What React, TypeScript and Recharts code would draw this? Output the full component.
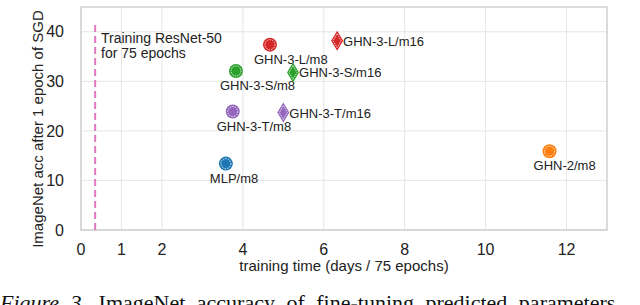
import React from 'react';
import {
  ScatterChart,
  Scatter,
  XAxis,
  YAxis,
  CartesianGrid,
  ReferenceLine,
  ReferenceArea,
  Label,
  Cell,
} from 'recharts';

const names = ['MLP/m8', 'GHN-3-T/m8', 'GHN-3-S/m8', 'GHN-3-L/m8', 'GHN-3-T/m16', 'GHN-3-S/m16', 'GHN-3-L/m16', 'GHN-2/m8'];
const days = [3.58, 3.75, 3.83, 4.67, 5.0, 5.24, 6.33, 11.58];
const acc = [13.4, 23.9, 32.1, 37.4, 23.7, 31.8, 38.2, 15.9];
const colors = ['#1f77b4', '#9467bd', '#2ca02c', '#d62728', '#9467bd', '#2ca02c', '#d62728', '#ff7f0e'];
const markers = ['circle', 'circle', 'circle', 'circle', 'diamond', 'diamond', 'diamond', 'circle'];

const xTicks = [0, 1, 2, 4, 6, 8, 10, 12];
const yTicks = [0, 10, 20, 30, 40];
const resnetDays = 0.35;

const data = names.map((name, i) => ({ name, x: days[i], y: acc[i], marker: markers[i] }));

const font = '"Liberation Sans", Arial, sans-serif';

const MarkerShape = (props: any) => {
  const { cx, cy, fill, payload } = props;
  if (payload.marker === 'diamond') {
    return (
      <g>
        <path d={`M${cx},${cy - 10} L${cx + 6},${cy} L${cx},${cy + 10} L${cx - 6},${cy} Z`} fill={fill} />
        <path
          d={`M${cx},${cy - 7} L${cx + 4},${cy} L${cx},${cy + 7} L${cx - 4},${cy} Z`}
          fill="none"
          stroke="#fff"
          strokeWidth={0.8}
          strokeDasharray="1.5 1"
        />
        <text x={cx + 6} y={cy + 5} fontSize={13} fill="#222" fontFamily={font}>
          {payload.name}
        </text>
      </g>
    );
  }
  return (
    <g>
      <circle cx={cx} cy={cy} r={7} fill={fill} />
      <circle cx={cx} cy={cy} r={5} fill="none" stroke="#fff" strokeWidth={0.8} strokeDasharray="1.5 1" />
      <text x={cx - 16} y={cy + 19} fontSize={13} fill="#222" fontFamily={font}>
        {payload.name}
      </text>
    </g>
  );
};

const YLabel = () => (
  <text
    x={39}
    y={129}
    transform="rotate(-90 39 129)"
    textAnchor="middle"
    dominantBaseline="middle"
    fontSize={15}
    fill="#222"
    fontFamily={font}
  >
    ImageNet acc after 1 epoch of SGD
  </text>
);

const XLabel = () => (
  <text x={344} y={271} textAnchor="middle" fontSize={15} fill="#222" fontFamily={font}>
    training time (days / 75 epochs)
  </text>
);

export default function App() {
  return (
    <div style={{ position: 'absolute', left: 0, top: 0, width: 640, height: 305, overflow: 'hidden', background: '#fff' }}>
      <ScatterChart width={640} height={305} margin={{ top: 7, right: 33, bottom: 45, left: 0 }}>
        <CartesianGrid stroke="#e6e6e6" strokeWidth={1} horizontalValues={yTicks} verticalValues={xTicks} />
        <ReferenceArea x1={0} x2={13} y1={0} y2={45} fill="none" stroke="#d0d0d0" strokeWidth={1.5} ifOverflow="visible" />
        <XAxis
          type="number"
          dataKey="x"
          domain={[0, 13]}
          ticks={xTicks}
          interval={0}
          height={30}
          axisLine={false}
          tickLine={false}
          tickMargin={8}
          tick={{ fontSize: 16, fill: '#222', fontFamily: font }}
        >
          <Label content={<XLabel />} />
        </XAxis>
        <YAxis
          type="number"
          dataKey="y"
          domain={[0, 45]}
          ticks={yTicks}
          interval={0}
          width={81}
          axisLine={false}
          tickLine={false}
          tickMargin={11}
          tick={{ fontSize: 16, fill: '#222', fontFamily: font }}
        >
          <Label content={<YLabel />} />
        </YAxis>
        <ReferenceLine
          segment={[
            { x: resnetDays, y: 0 },
            { x: resnetDays, y: 42 },
          ]}
          stroke="#e377c2"
          strokeWidth={2}
          strokeDasharray="7 4"
        />
        <Scatter data={data} shape={MarkerShape} isAnimationActive={false}>
          {data.map((d, i) => (
            <Cell key={d.name} fill={colors[i]} />
          ))}
        </Scatter>
        <text x={101} y={43} fontSize={14} fill="#222" fontFamily={font}>
          Training ResNet-50
        </text>
        <text x={101} y={58} fontSize={14} fill="#222" fontFamily={font}>
          for 75 epochs
        </text>
      </ScatterChart>
      <div
        style={{
          position: 'absolute',
          left: 0,
          top: 290,
          fontFamily: '"Liberation Serif", "Times New Roman", serif',
          fontSize: 22,
          wordSpacing: 6,
          whiteSpace: 'nowrap',
          color: '#111',
        }}
      >
        <i>Figure 3.</i> ImageNet accuracy of fine-tuning predicted parameters
      </div>
    </div>
  );
}
